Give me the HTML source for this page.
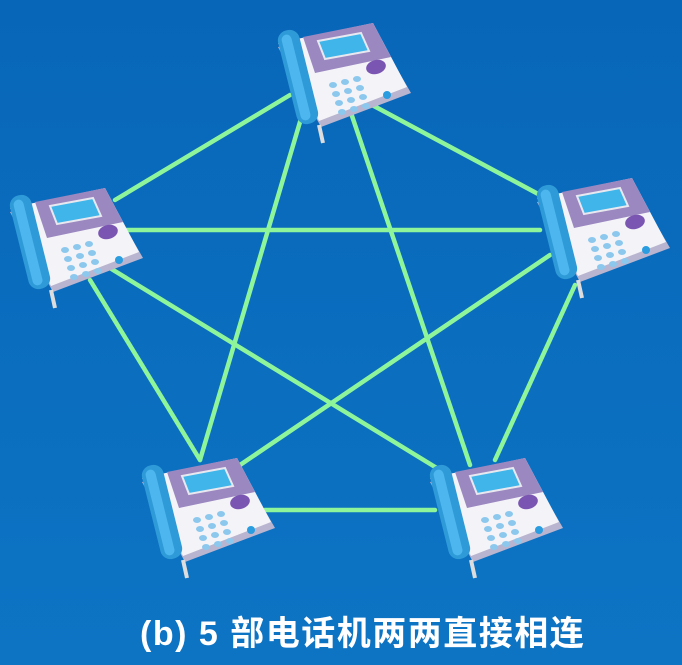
<!DOCTYPE html>
<html><head><meta charset="utf-8"><style>
html,body{margin:0;padding:0;}
body{width:682px;height:665px;background:#0b6fc0;overflow:hidden;position:relative;font-family:"Liberation Sans","Noto Sans CJK SC",sans-serif;}
.t{position:absolute;left:140px;top:612px;font-size:34px;line-height:44px;font-weight:bold;color:#fff;white-space:nowrap;letter-spacing:1.5px;}
</style></head><body>
<svg width="682" height="665" style="position:absolute;left:0;top:0">
<defs>
<linearGradient id="bg" x1="0" y1="0" x2="0" y2="1"><stop offset="0" stop-color="#0866b8"/><stop offset="1" stop-color="#0d74c4"/></linearGradient>
<g id="ph">
<polygon points="5,32 100,12 138,78 48,112" fill="#b9b4cf"/>
<polygon points="5,28 100,8 134,72 46,106" fill="#f4f4f8"/>
<polygon points="30,22 100,8 118,42 42,58" fill="#9b88c0"/>
<polygon points="45,26 88,18 96,36 52,44" fill="#3fb5ea" stroke="#e8e8f0" stroke-width="2"/>
<ellipse cx="103" cy="52" rx="10" ry="7" fill="#7a56b2" transform="rotate(-15 103 52)"/>
<g fill="#8cc8ee">
<ellipse cx="60" cy="70" rx="4" ry="3"/><ellipse cx="72" cy="67" rx="4" ry="3"/><ellipse cx="84" cy="64" rx="4" ry="3"/>
<ellipse cx="63" cy="79" rx="4" ry="3"/><ellipse cx="75" cy="76" rx="4" ry="3"/><ellipse cx="87" cy="73" rx="4" ry="3"/>
<ellipse cx="66" cy="88" rx="4" ry="3"/><ellipse cx="78" cy="85" rx="4" ry="3"/><ellipse cx="90" cy="82" rx="4" ry="3"/>
<ellipse cx="69" cy="97" rx="4" ry="3"/><ellipse cx="81" cy="94" rx="4" ry="3"/><ellipse cx="93" cy="91" rx="4" ry="3"/>
</g>
<circle cx="114" cy="80" r="4" fill="#2a9ce0"/>
<rect x="14" y="14" width="22" height="96" rx="10" fill="#2e9ad8" transform="rotate(-14 25 62)"/>
<rect x="18" y="18" width="10" height="88" rx="5" fill="#4db6ee" transform="rotate(-14 25 62)"/>
<path d="M46 110 L50 128" stroke="#ddd" stroke-width="4"/>
</g>
</defs>
<rect width="682" height="665" fill="url(#bg)"/>
<g stroke="#8ff59a" stroke-width="4.5" stroke-linecap="round">
<line x1="115" y1="200" x2="290" y2="95"/>
<line x1="372" y1="105" x2="540" y2="195"/>
<line x1="125" y1="230" x2="540" y2="230"/>
<line x1="90" y1="280" x2="200" y2="460"/>
<line x1="575" y1="285" x2="495" y2="460"/>
<line x1="265" y1="510" x2="435" y2="510"/>
<line x1="305" y1="105" x2="200" y2="460"/>
<line x1="350" y1="110" x2="470" y2="465"/>
<line x1="105" y1="265" x2="440" y2="470"/>
<line x1="550" y1="255" x2="240" y2="465"/>
</g>
<use href="#ph" x="273" y="15"/>
<use href="#ph" x="5" y="180"/>
<use href="#ph" x="532" y="170"/>
<use href="#ph" x="137" y="450"/>
<use href="#ph" x="425" y="450"/>
</svg>
<div class="t">(b) 5 部电话机两两直接相连</div>
</body></html>
